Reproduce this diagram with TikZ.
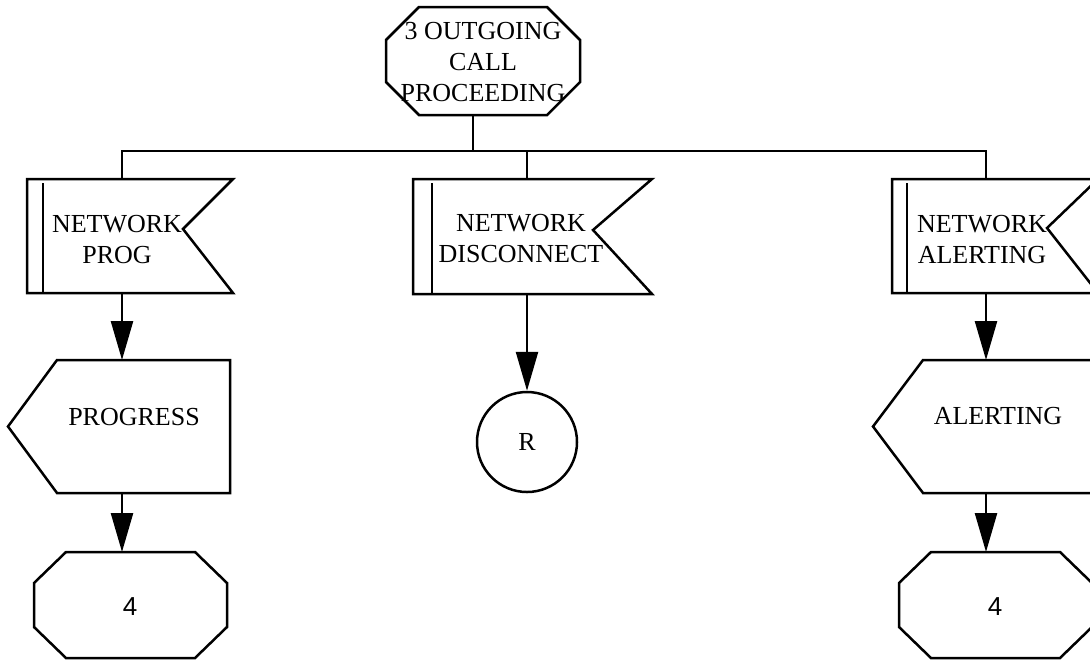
\documentclass[tikz,border=0pt]{standalone}
\usepackage{fontspec}
\setmainfont{Liberation Serif}
\newfontfamily\digitfont{Liberation Sans}
\usetikzlibrary{calc,arrows.meta}

% octagon outline round a hull node: name, horizontal cut, vertical cut
\newcommand\drawoct[3]{%
  \draw[edge] ($(#1.north west)+(#2,0)$) -- ($(#1.north east)+(-#2,0)$)
    -- ($(#1.north east)+(0,#3)$) -- ($(#1.south east)+(0,-#3)$)
    -- ($(#1.south east)+(-#2,0)$) -- ($(#1.south west)+(#2,0)$)
    -- ($(#1.south west)+(0,-#3)$) -- ($(#1.north west)+(0,#3)$) -- cycle;}
% input flag: name, notch depth, notch shift, inner bar offset
\newcommand\drawflag[4]{%
  \draw[edge] (#1.north west) -- (#1.north east) -- ($(#1.east)+(-#2,#3)$)
    -- (#1.south east) -- (#1.south west) -- cycle;
  \draw[edge] ($(#1.north west)+(#4,4)$) -- ($(#1.south west)+(#4,1)$);}
% output symbol pointing left: name, point depth
\newcommand\drawsend[2]{%
  \draw[edge] (#1.north east) -- ($(#1.north west)+(#2,0)$) -- (#1.west)
    -- ($(#1.south west)+(#2,0)$) -- (#1.south east) -- cycle;}

\begin{document}
\begin{tikzpicture}[x=0.5pt,y=-0.5pt,
  hull/.style 2 args={draw=none,inner sep=0pt,outer sep=0pt,
    minimum width=#1*0.5pt,minimum height=#2*0.5pt},
  lbl/.style={font=\fontsize{13}{15.5}\selectfont,align=center,inner sep=0pt},
  num/.style={font=\digitfont\fontsize{13}{15.5}\selectfont,inner sep=0pt},
  edge/.style={line width=1.25pt,line join=miter},
  flow/.style={edge,-{Triangle[length=19.5pt,width=11pt]}},
]
\clip (0,0) rectangle (1090,660);

% state 3
\node[hull={194}{108}] (st3) at (483,61) {};
\drawoct{st3}{33}{33}
\node[lbl] (st3t) at (483,62) {3 OUTGOING\\CALL\\PROCEEDING};

% input signals
\node[hull={206}{114}] (flagL) at (130,236) {};
\drawflag{flagL}{50}{-7}{16}
\node[lbl] (flagLt) at (117,239.5) {NETWORK\\PROG};

\node[hull={239}{115}] (flagM) at (532.5,236.5) {};
\drawflag{flagM}{59}{-6.5}{19}
\node[lbl] (flagMt) at (521,238.5) {NETWORK\\DISCONNECT};

\node[hull={206}{114}] (flagR) at (995,236) {};
\drawflag{flagR}{51}{-8}{15}
\node[lbl] (flagRt) at (982,239.5) {NETWORK\\ALERTING};

% output signals
\node[hull={222}{133}] (progL) at (119,426.5) {};
\drawsend{progL}{49}
\node[lbl] (progLt) at (134,417) {PROGRESS};

\node[hull={222}{133}] (alertR) at (984,426.5) {};
\drawsend{alertR}{50}
\node[lbl] (alertRt) at (998,416) {ALERTING};

% connector R
\node[circle,draw,edge,lbl,minimum size=50pt] (rc) at (527,442) {R};

% next states
\node[hull={193}{106}] (octL) at (130.5,605) {};
\drawoct{octL}{32}{31}
\node[num] (octLt) at (130,607) {4};

\node[hull={193}{106}] (octR) at (995.5,605) {};
\drawoct{octR}{32}{31}
\node[num] (octRt) at (995,607) {4};

% branch bus
\coordinate (c0) at (473,151);
\coordinate (c1) at (122,151);
\coordinate (c2) at (527,151);
\coordinate (c3) at (986,151);
\draw[edge] (st3.south -| c0) -- (c0);
\draw[edge] (c1 |- flagL.north) -- (c1) -- (c3) -- (c3 |- flagR.north);
\draw[edge] (c2) -- (c2 |- flagM.north);

% flow arrows
\draw[flow] (c1 |- flagL.south) -- (c1 |- progL.north);
\draw[flow] (c1 |- progL.south) -- (c1 |- octL.north);
\draw[flow] (c2 |- flagM.south) -- (rc.north);
\draw[flow] (c3 |- flagR.south) -- (c3 |- alertR.north);
\draw[flow] (c3 |- alertR.south) -- (c3 |- octR.north);
\end{tikzpicture}
\end{document}
